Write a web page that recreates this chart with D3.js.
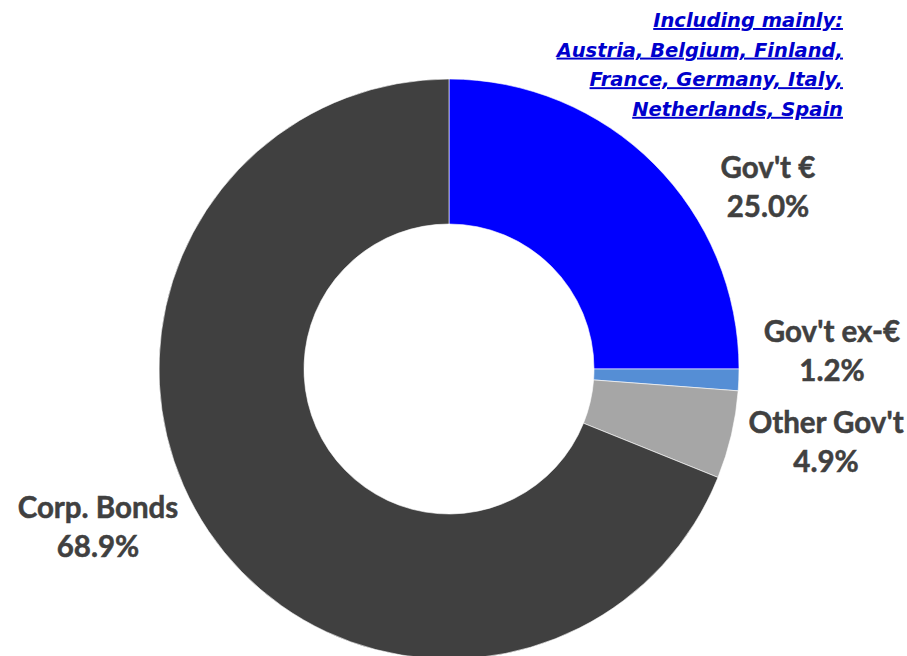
<!DOCTYPE html>
<html><head><meta charset="utf-8">
<script src="https://cdn.jsdelivr.net/npm/d3@7"></script>
<style>body{margin:0;background:#fff}svg{display:block}</style>
</head><body>
<svg id="c" width="907" height="656"></svg>
<script>
const categories = ["Gov't €", "Gov't ex-€", "Other Gov't", "Corp. Bonds"];
const values = [25.0, 1.2, 4.9, 68.9];
const colors = ["#0000FF", "#558ED5", "#A6A6A6", "#404040"];
const noteLines = ["Including mainly:", "Austria, Belgium, Finland,", "France, Germany, Italy,", "Netherlands, Spain"];

const svg = d3.select("#c");
const cx = 449, cy = 369, rOuter = 290, rInner = 145;
const g = svg.append("g").attr("transform", `translate(${cx},${cy})`);
const data = categories.map((c, i) => ({cat: c, value: values[i], color: colors[i]}));
const pie = d3.pie().value(d => d.value).sort(null);
const arc = d3.arc().innerRadius(rInner).outerRadius(rOuter);
g.selectAll("path").data(pie(data)).join("path")
  .attr("d", arc).attr("fill", d => d.data.color)
  .attr("stroke", "#fff").attr("stroke-width", 0.6);

const labelPos = [[768, 178], [832, 342], [826, 433], [98, 518]];
const font = "Lato, 'Open Sans', sans-serif";
data.forEach((d, i) => {
  const t = svg.append("text").attr("x", labelPos[i][0]).attr("y", labelPos[i][1])
    .attr("text-anchor", "middle").attr("font-family", font).attr("font-weight", "bold")
    .attr("font-size", 29.5).attr("fill", "#404040")
    .attr("stroke", "#404040").attr("stroke-width", 0.5);
  t.append("tspan").attr("x", labelPos[i][0]).text(d.cat);
  t.append("tspan").attr("x", labelPos[i][0]).attr("dy", 39).text(d3.format(".1f")(d.value) + "%");
});

const note = svg.append("text").attr("x", 843).attr("y", 27)
  .attr("text-anchor", "end").attr("font-family", "'DejaVu Sans', sans-serif").attr("font-weight", "bold")
  .attr("font-style", "italic").attr("font-size", 19.5).attr("fill", "#0000CC")
  .attr("text-decoration", "underline");
noteLines.forEach((l, i) => note.append("tspan").attr("x", 843).attr("dy", i ? 29.6 : 0).text(l));
</script>
</body></html>
